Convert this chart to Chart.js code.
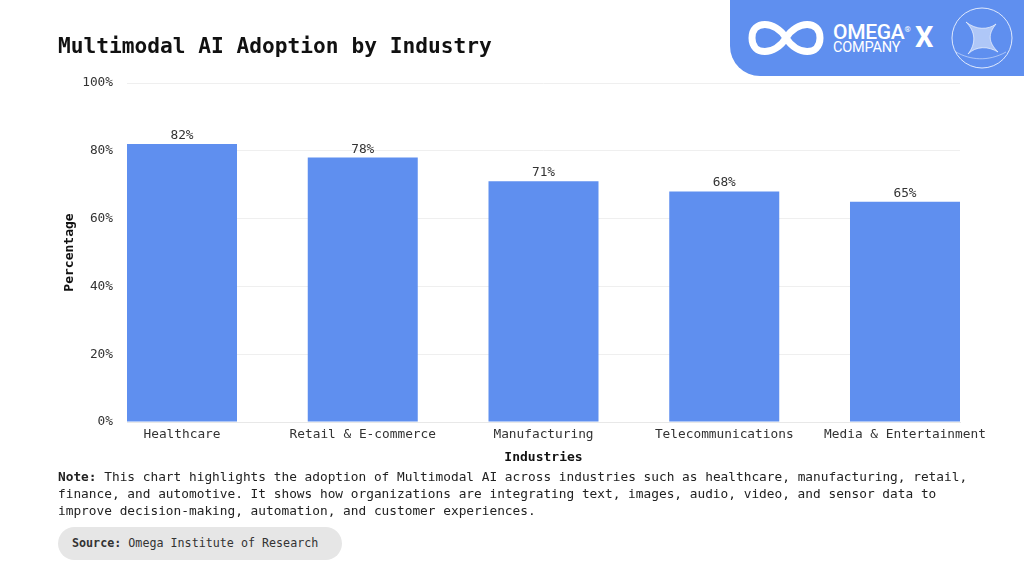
<!DOCTYPE html>
<html>
<head>
<meta charset="utf-8">
<script src="https://cdn.jsdelivr.net/npm/chart.js@4.4.1/dist/chart.umd.min.js"></script>
<style>
  body { margin: 0; width: 1024px; height: 576px; background: #fff; position: relative; overflow: hidden; font-family: "DejaVu Sans Mono", monospace; }
  #wrap { position: absolute; left: 0; top: 0; width: 1024px; height: 576px; }
  h1 { position: absolute; left: 58px; top: 33px; margin: 0; font-size: 21.2px; font-weight: bold; color: #111; }
  .banner { position: absolute; left: 730px; top: 0; width: 294px; height: 76px; background: #5f8fef; border-bottom-left-radius: 30px; }
  .omega { position: absolute; left: 103px; top: 22px; color: #fff; font-family: Roboto, sans-serif; font-weight: 500; font-size: 21px; line-height: 20px; letter-spacing: -0.3px; }
  .omega sup { font-size: 8px; vertical-align: top; position: relative; top: -2px; }
  .company { position: absolute; left: 103px; top: 41px; color: #fff; font-family: Roboto, sans-serif; font-size: 14.5px; line-height: 14px; letter-spacing: -0.2px; }
  .x { position: absolute; left: 185px; top: 20px; color: #fff; font-family: Roboto, sans-serif; font-weight: bold; font-size: 29px; line-height: 34px; }
  .note { position: absolute; left: 58px; top: 468px; font-size: 12.8px; line-height: 17px; color: #222; }
  .source { position: absolute; left: 58px; top: 527px; width: 284px; height: 33px; border-radius: 17px; background: #e6e6e6; font-size: 11.7px; line-height: 33px; color: #333; }
  .source span { margin-left: 14px; }
</style>
</head>
<body>
<div id="wrap"><canvas id="chart" width="1024" height="576"></canvas></div>
<h1>Multimodal AI Adoption by Industry</h1>
<div class="banner">
  <svg width="294" height="76" style="position:absolute;left:0;top:0">
    <path d="M 56 38 C 45 20, 22 20, 22 38 C 22 56, 45 56, 56 38 C 67 20, 90 20, 90 38 C 90 56, 67 56, 56 38 Z"
          fill="none" stroke="#fff" stroke-width="7"/>
    <circle cx="252" cy="38" r="30" fill="none" stroke="rgba(255,255,255,0.8)" stroke-width="1"/>
    <path d="M 236 22 C 246 30, 258 30, 266 24 C 258 34, 258 42, 268 52 C 258 46, 246 46, 238 54 C 246 44, 246 32, 236 22 Z"
          fill="rgba(255,255,255,0.5)" stroke="#fff" stroke-width="0.6"/>
    <path d="M 226 52 C 240 60, 258 62, 276 52" fill="none" stroke="rgba(255,255,255,0.6)" stroke-width="0.8"/>
  </svg>
  <div class="omega">OMEGA<sup>®</sup></div>
  <div class="company">COMPANY</div>
  <div class="x">X</div>
</div>
<div class="note"><b>Note:</b> This chart highlights the adoption of Multimodal AI across industries such as healthcare, manufacturing, retail,<br>finance, and automotive. It shows how organizations are integrating text, images, audio, video, and sensor data to<br>improve decision-making, automation, and customer experiences.</div>
<div class="source"><span><b>Source:</b> Omega Institute of Research</span></div>
<script>
// chart data
const industries = ['Healthcare', 'Retail & E-commerce', 'Manufacturing', 'Telecommunications', 'Media & Entertainment'];
const adoption = [82, 78, 71, 68, 65];
const yTicks = [0, 20, 40, 60, 80, 100];

const monoFont = '"DejaVu Sans Mono", monospace';
const barColor = '#5f8fef';

// draw the % labels above each bar
const valueLabels = {
  id: 'valueLabels',
  afterDatasetsDraw(chart) {
    const c = chart.ctx;
    const meta = chart.getDatasetMeta(0);
    c.save();
    c.font = '12.8px ' + monoFont;
    c.fillStyle = '#333';
    c.textAlign = 'center';
    c.textBaseline = 'bottom';
    meta.data.forEach((bar, i) => {
      c.fillText(adoption[i] + '%', bar.x, bar.y - 2);
    });
    c.restore();
  }
};

const ctx = document.getElementById('chart').getContext('2d');
const chart = new Chart(ctx, {
  type: 'bar',
  data: {
    datasets: [{
      data: adoption.map((v, i) => ({ x: i, y: v })),
      backgroundColor: barColor,
      barPercentage: 0.6086,
      categoryPercentage: 1
    }]
  },
  options: {
    responsive: false,
    animation: false,
    layout: { padding: { left: 62, right: 64, top: 83, bottom: 111 } },
    plugins: { legend: { display: false }, tooltip: { enabled: false } },
    scales: {
      x: {
        type: 'linear',
        offset: false,
        min: -0.3043,
        max: 4.3043,
        afterBuildTicks: (s) => { s.ticks = industries.map((c, i) => ({ value: i })); },
        afterFit: (s) => { s.height = 43; },
        grid: { display: false, drawTicks: false, offset: false },
        border: { display: true, color: '#e8e8e8' },
        ticks: {
          autoSkip: false, maxRotation: 0, padding: 5, color: '#333',
          font: { family: monoFont, size: 12.8 },
          callback: (v) => industries[v]
        },
        title: {
          display: true, text: 'Industries', color: '#111',
          font: { family: monoFont, size: 13, weight: 'bold' },
          padding: { top: 4, bottom: 0 }
        }
      },
      y: {
        min: 0,
        max: 100,
        afterBuildTicks: (s) => { s.ticks = yTicks.map(v => ({ value: v })); },
        afterFit: (s) => { s.width = 65; },
        grid: { color: '#efefef', drawTicks: false },
        border: { display: false },
        ticks: {
          padding: 14, color: '#333',
          font: { family: monoFont, size: 12.8 },
          callback: (v) => v + '%'
        },
        title: {
          display: true, text: 'Percentage', color: '#111',
          font: { family: monoFont, size: 13, weight: 'bold' },
          padding: { top: 0, bottom: 0 }
        }
      }
    }
  },
  plugins: [valueLabels]
});
</script>
</body>
</html>
